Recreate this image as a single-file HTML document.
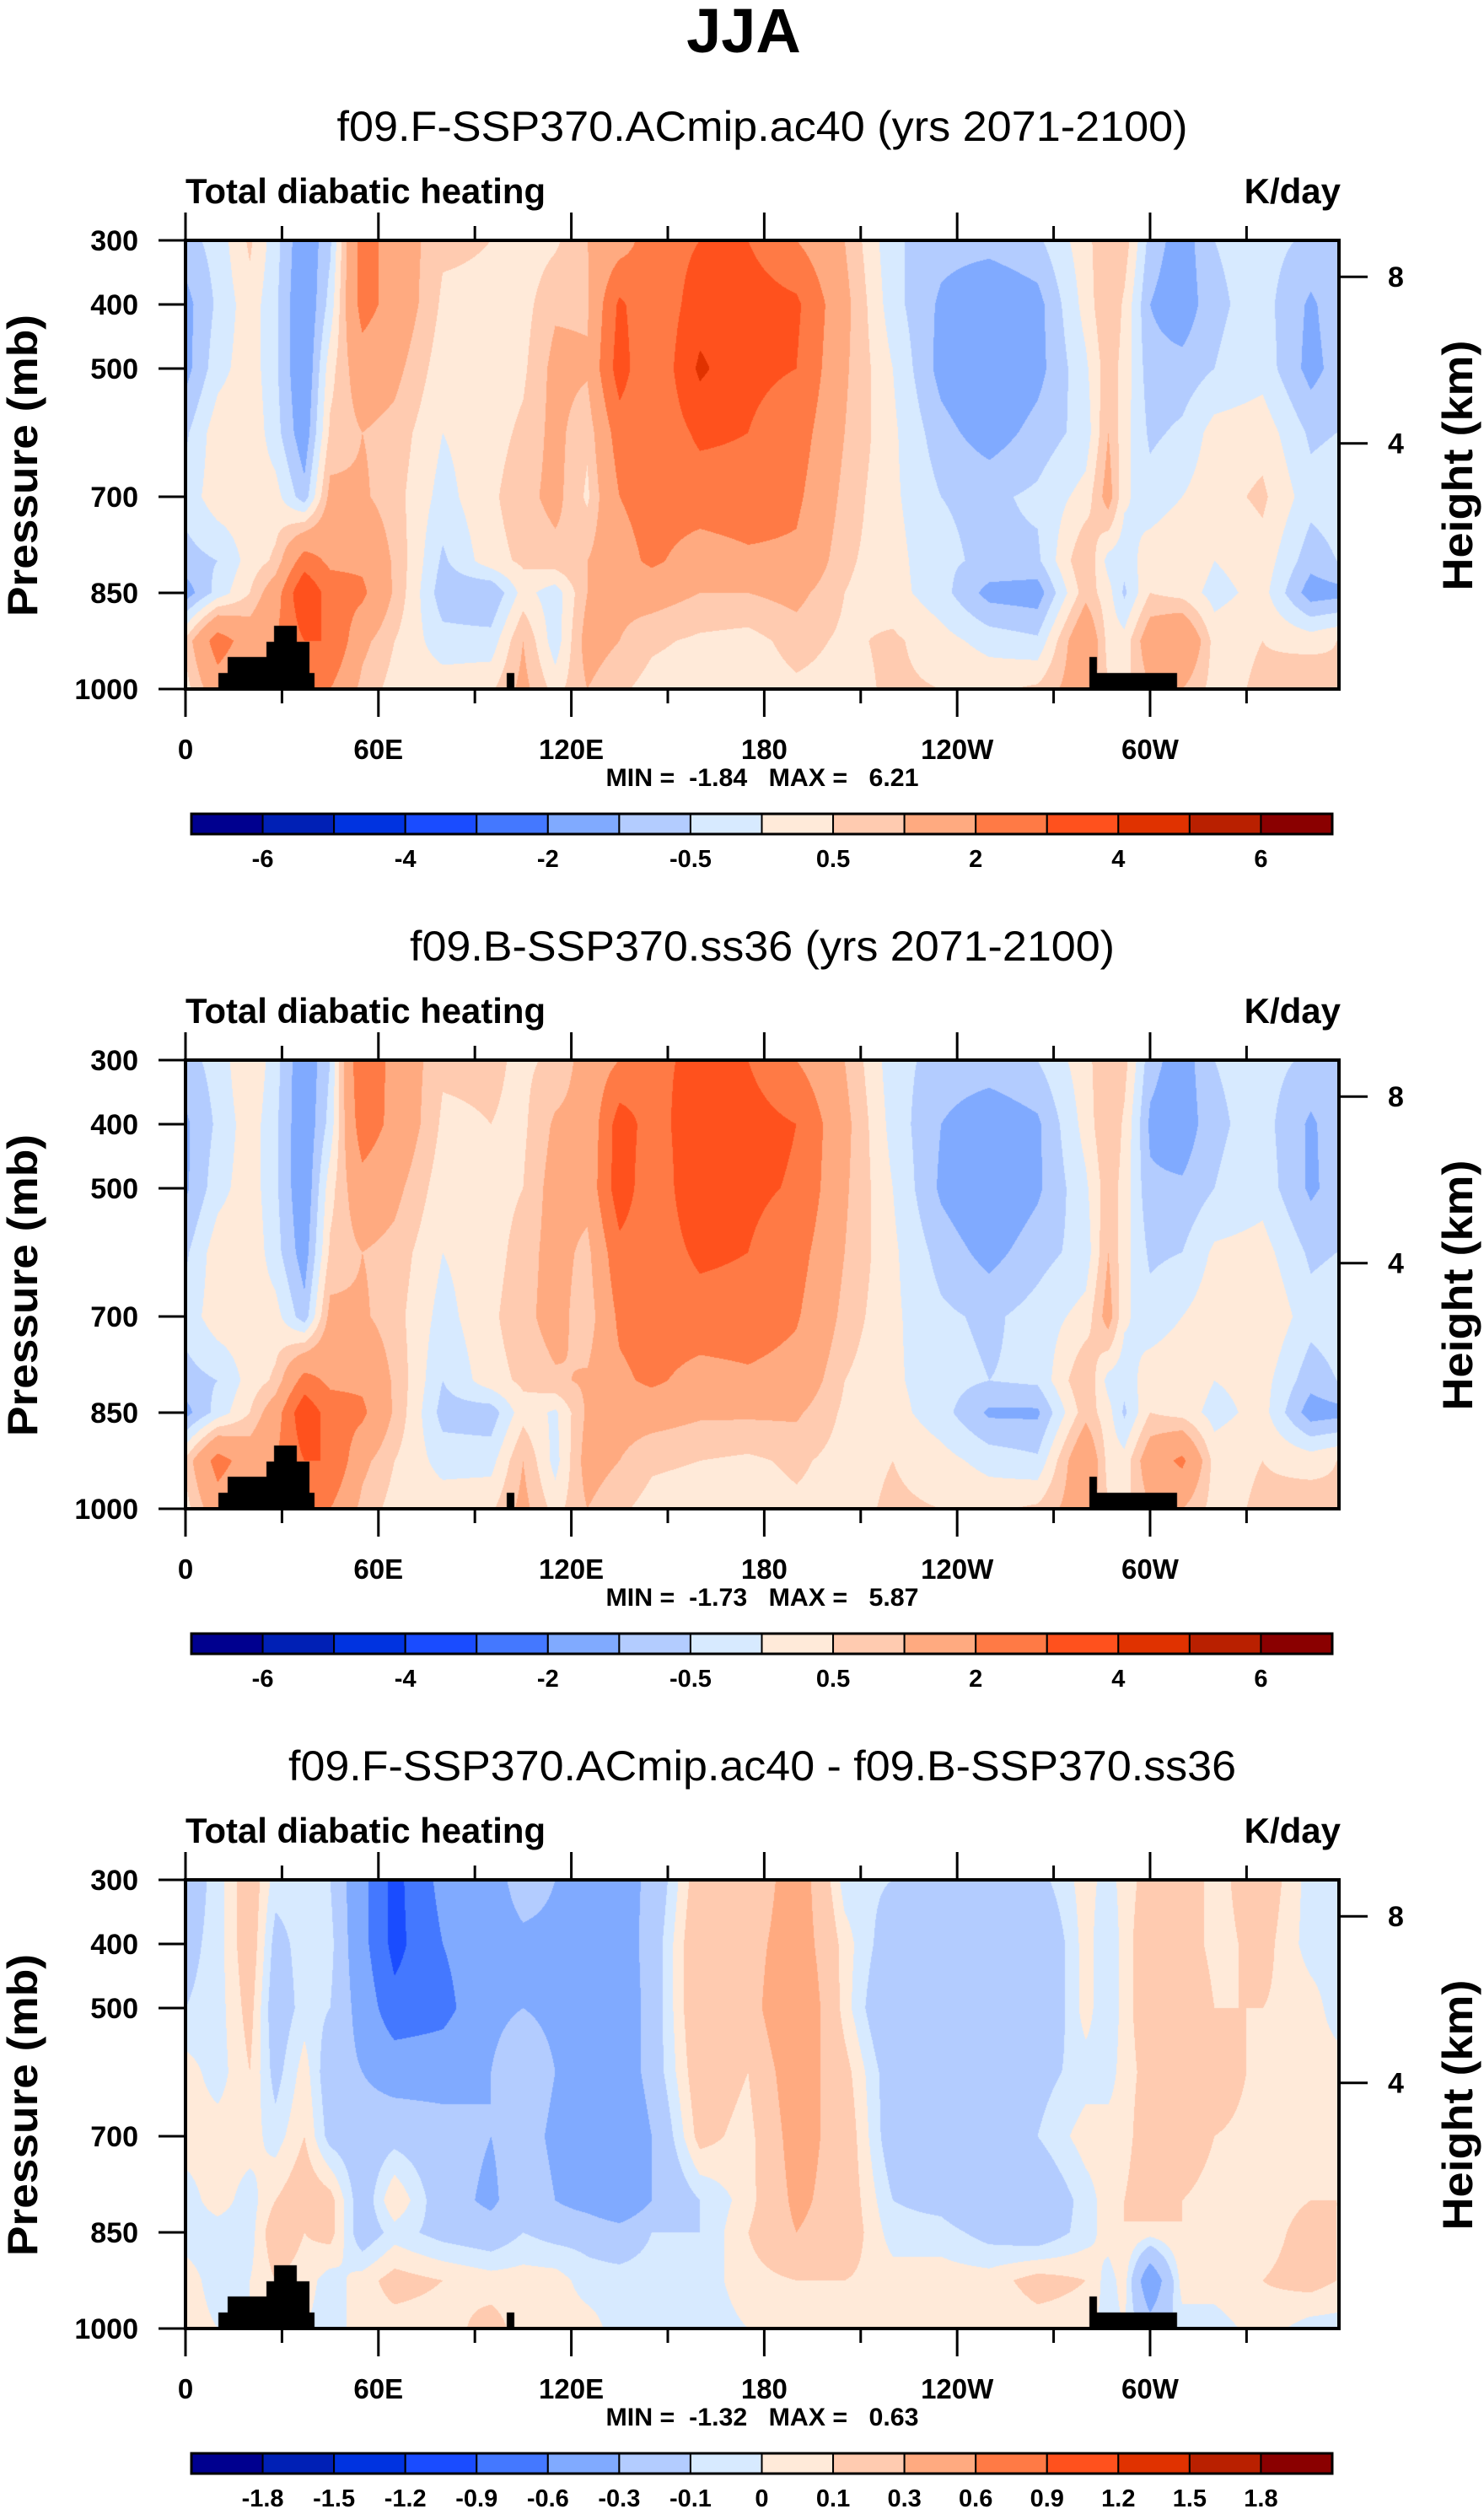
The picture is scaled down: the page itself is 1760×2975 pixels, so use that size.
<!DOCTYPE html>
<html><head><meta charset="utf-8">
<style>
html,body{margin:0;padding:0;background:#fff;}
#wrap{position:relative;width:1760px;height:2975px;overflow:hidden;}
canvas{position:absolute;}
svg{position:absolute;left:0;top:0;}
text{font-family:"Liberation Sans",Arial,sans-serif;fill:#000;}
</style></head>
<body>
<div id="wrap">
<canvas id="c0" width="1368" height="532" style="left:220px;top:285px"></canvas>
<canvas id="c1" width="1368" height="532" style="left:220px;top:1257px"></canvas>
<canvas id="c2" width="1368" height="532" style="left:220px;top:2229px"></canvas>
<svg id="svg" width="1760" height="2975" xmlns="http://www.w3.org/2000/svg">
<text x="882" y="62" font-size="74" font-weight="bold" text-anchor="middle">JJA</text>
</svg>
</div>
<script>
// ---- data ----
const lons = [0,10,20,28,37,45,55,65,80,95,105,115,125,135,145,160,175,190,205,220,235,250,265,280,287,292,300,310,320,335,350,358];
const levs = [300,400,500,600,700,800,850,925,1000];
const p1Values = [
[-0.7,-1.2,-1.2,-0.6,-0.3,-0.7,-1.3,0.6,0.3],
[-0.3,-0.4,-0.2,0.3,0.3,-0.5,-0.3,2.5,1.5],
[0.6,0.3,0.3,0.4,0.3,0.2,0.5,1.5,1],
[-0.3,-0.4,-0.4,-0.3,0.2,0.6,1.5,2,2],
[-1.5,-1.6,-1.6,-1.4,-0.8,2.5,4,3,3],
[-0.6,-0.3,0.3,0.6,1.2,1.8,2.5,3,2],
[2.5,2.4,1.5,1,1.1,1.8,2.2,1.2,0.8],
[1.5,1.6,1.2,0.8,0.7,0.9,0.9,0.5,0.3],
[0.6,0.4,0.2,0,-0.2,-0.6,-0.8,-0.3,0.3],
[0.5,0.4,0.2,0.3,0.4,0.3,-1,-0.3,0.4],
[0.2,0.3,0.4,0.6,0.8,0.6,0.2,1,1.2],
[0.4,0.9,1.2,1.2,1.2,0.8,-0.3,-0.3,0.3],
[1,0.9,1.1,0.6,0.4,1,1,1.3,1],
[1.5,3.2,3.5,2.5,2,1.6,1.2,1,0.6],
[2.5,2.2,2,2.2,2.4,2.2,1.3,0.6,0.3],
[3,3.5,4.2,3.2,2.5,1.5,1,0.4,0.2],
[3,3.5,3.2,3,2.6,1.8,1,0.3,0.2],
[2,3.2,3,2.5,2.2,1.8,1.2,0.7,0.4],
[1,1.2,1.1,1,0.8,0.6,0.5,0.4,0.3],
[-0.4,-0.3,0,0.1,0.1,0.2,0.2,0.6,0.6],
[-0.8,-1.1,-1.2,-0.8,-0.5,-0.4,-0.3,0.2,0.5],
[-0.8,-1.5,-1.7,-1.3,-0.6,-0.6,-1.2,-0.2,0.4],
[-0.6,-1.2,-1.2,-0.8,-0.4,-0.6,-1.3,-0.4,0.6],
[0.3,0.2,-0.1,-0.3,0.2,1,0.8,1.8,1.5],
[1,1,0.8,1,1.3,-0.2,0.2,0.3,0.5],
[0.8,0.4,0.3,0.2,0.1,-0.3,-0.6,0.2,0.3],
[-0.7,-1,-0.8,-0.6,-0.3,0.3,0.5,1.5,1],
[-1.3,-1.4,-0.8,-0.4,0,0.5,0.3,2,1],
[-0.5,-0.6,-0.5,0.2,0.3,0,-0.2,0.3,0.3],
[-0.3,-0.3,-0.2,0.3,0.6,0.3,0.2,0.5,0.6],
[-0.6,-1.1,-1.2,-0.6,-0.3,-0.8,-1.3,0.3,1],
[-0.5,-0.7,-0.8,-0.5,-0.2,-0.5,-1.2,0.5,0.6]
];
const p2Values = [
[-0.7,-1.1,-1.1,-0.6,-0.3,-0.7,-1.2,0.6,0.3],
[-0.3,-0.4,-0.2,0.3,0.3,-0.5,-0.3,2.4,1.5],
[0.5,0.3,0.3,0.4,0.3,0.2,0.5,1.5,1],
[-0.3,-0.4,-0.4,-0.3,0.2,0.6,1.5,2,2],
[-1.5,-1.5,-1.5,-1.3,-0.8,2.4,3.8,3,3],
[-0.5,-0.3,0.3,0.6,1.2,1.8,2.5,3,2],
[3,2.6,1.6,1,1.1,1.8,2.2,1.2,0.8],
[1.6,1.7,1.2,0.8,0.7,0.9,0.9,0.5,0.3],
[0.6,0.4,0.2,0,-0.2,-0.5,-0.7,-0.2,0.3],
[0.6,0.5,0.3,0.3,0.4,0.3,-0.8,-0.2,0.4],
[0.4,0.4,0.5,0.7,0.8,0.6,0.3,1,1.2],
[0.6,1.1,1.3,1.3,1.3,0.9,-0.1,-0.2,0.3],
[1.3,1.2,1.3,0.8,0.6,1.1,1.1,1.3,1],
[2,3.5,3.6,2.7,2.2,1.8,1.3,1,0.6],
[2.8,2.6,2.3,2.4,2.5,2.2,1.3,0.6,0.3],
[3.2,3.6,3.8,3.2,2.6,1.6,1.1,0.5,0.2],
[3,3.4,3.2,3,2.6,1.8,1.1,0.4,0.2],
[2,3,2.9,2.4,2.1,1.6,1.1,0.6,0.4],
[1,1.2,1.1,1,0.8,0.5,0.4,0.3,0.3],
[-0.3,-0.2,0,0.1,0.1,0.1,0.2,0.5,0.6],
[-0.7,-1,-1.1,-0.7,-0.4,-0.3,-0.3,0.2,0.5],
[-0.7,-1.4,-1.6,-1.2,-0.6,-0.5,-1.1,-0.2,0.4],
[-0.5,-1.1,-1.1,-0.7,-0.3,-0.4,-1.1,-0.4,0.6],
[0.3,0.2,-0.1,-0.3,0.2,1,0.8,1.8,1.5],
[1,1,0.8,1,1.3,-0.2,0.2,0.3,0.5],
[0.7,0.4,0.3,0.2,0.1,-0.3,-0.6,0.2,0.3],
[-0.8,-1.1,-0.9,-0.6,-0.3,0.3,0.5,1.5,1],
[-1.3,-1.4,-0.9,-0.5,0,0.4,0.3,2.2,1],
[-0.5,-0.6,-0.5,0.1,0.3,0,-0.2,0.3,0.3],
[-0.3,-0.3,-0.2,0.2,0.5,0.2,0.2,0.5,0.6],
[-0.6,-1.1,-1.1,-0.6,-0.3,-0.8,-1.3,0.3,0.8],
[-0.5,-0.7,-0.8,-0.5,-0.2,-0.5,-1.2,0.5,0.6]
];
const p3Values = [
[-0.2,-0.15,-0.1,0.05,0.05,-0.05,-0.05,0.05,0.05],
[-0.05,-0.05,-0.05,-0.05,0.05,0.05,-0.05,-0.05,0],
[0.2,0.2,0.15,0.1,0.05,-0.05,-0.05,0,0],
[-0.05,-0.15,-0.2,-0.15,-0.05,0.1,0.2,0.1,0],
[-0.05,-0.05,-0.05,0.05,0.1,0.2,0.1,0.05,0],
[-0.1,-0.05,-0.1,-0.2,-0.15,0.15,0.15,-0.05,-0.05],
[-0.5,-0.5,-0.4,-0.3,-0.2,-0.2,-0.2,0.05,0.05],
[-1.0,-1.0,-0.8,-0.4,-0.15,0.1,-0.05,0.15,0.05],
[-0.5,-0.6,-0.7,-0.4,-0.2,-0.2,-0.15,0.1,0.05],
[-0.4,-0.4,-0.35,-0.3,-0.3,-0.35,-0.2,0.05,0.15],
[-0.2,-0.35,-0.3,-0.15,-0.2,-0.15,-0.1,0.05,0.05],
[-0.3,-0.35,-0.35,-0.3,-0.35,-0.3,-0.15,0.05,0.05],
[-0.4,-0.45,-0.45,-0.5,-0.5,-0.4,-0.15,-0.05,0.05],
[-0.4,-0.45,-0.5,-0.5,-0.6,-0.55,-0.2,-0.05,-0.05],
[-0.25,-0.2,-0.2,-0.2,-0.3,-0.3,-0.1,-0.05,-0.05],
[0.2,0.25,0.25,0.2,0.15,-0.1,-0.1,-0.05,-0.05],
[0.1,0.2,0.2,0.1,0.05,0.05,0.1,0.05,0],
[0.45,0.45,0.55,0.45,0.4,0.35,0.3,0.1,0.05],
[-0.05,0.05,0.05,0.15,0.2,0.2,0.2,0.1,0.05],
[-0.1,-0.2,-0.3,-0.2,-0.2,-0.1,-0.05,0.05,0.05],
[-0.15,-0.2,-0.25,-0.2,-0.2,-0.15,-0.05,0.05,0.02],
[-0.1,-0.1,-0.1,-0.1,-0.15,-0.3,-0.15,0.05,0.02],
[-0.15,-0.3,-0.3,-0.15,-0.1,-0.25,-0.2,0.15,0.05],
[0.05,0.05,0.05,-0.05,0.05,-0.05,-0.05,0.1,0.05],
[-0.05,-0.1,-0.1,-0.05,0.05,0.05,0.05,-0.05,-0.05],
[0.05,0.05,0.05,0.05,0.05,0.1,0.1,0.05,0],
[0.15,0.2,0.2,0.15,0.2,0.2,0.05,-0.5,-0.2],
[0.2,0.2,0.3,0.25,0.2,0.1,0.1,0.05,-0.05],
[0.05,0.05,0.1,0.2,0.1,0.05,0.05,0.05,-0.05],
[0.2,0.15,0.1,0.05,0.05,0.05,0.05,0.1,0.05],
[-0.05,-0.05,0.05,0.05,0.05,0.1,0.15,0.15,-0.05],
[-0.05,-0.05,-0.05,0.05,0.05,0.1,0.1,0.1,-0.05]
];
const landBlocks = [[10.3,13,975],[13,25.3,950],[25.3,27.6,926],[27.6,34.7,901],[34.7,38.5,926],[38.5,40,975],[100,102.3,975],[281,283.5,950],[283.5,308.5,975]];
const levelsAbs = [-6,-5,-4,-3,-2,-1,-0.5,0,0.5,1,2,3,4,5,6];
const levelsDiff = [-1.8,-1.5,-1.2,-0.9,-0.6,-0.3,-0.1,0,0.1,0.3,0.6,0.9,1.2,1.5,1.8];
const labelsAbs = ["","-6","","-4","","-2","","-0.5","","0.5","","2","","4","","6"];
const labelsDiff = ["","-1.8","-1.5","-1.2","-0.9","-0.6","-0.3","-0.1","0","0.1","0.3","0.6","0.9","1.2","1.5","1.8"];
const xTickLabels = ["0","60E","120E","180","120W","60W"];
const xTickLons = [0,60,120,180,240,300];
const pTicks = [300,400,500,700,850,1000];
const hTicks = [8,4];
const minMax = [["-1.84","6.21"],["-1.73","5.87"],["-1.32","0.63"]];
const titles = ["f09.F-SSP370.ACmip.ac40 (yrs 2071-2100)","f09.B-SSP370.ss36 (yrs 2071-2100)","f09.F-SSP370.ACmip.ac40 - f09.B-SSP370.ss36"];
const colors = ["#00008f","#0020b5","#0033e0","#1a4cff","#4478ff","#80aaff","#b3ccff","#d7eaff","#ffead9","#ffcbb0","#ffaa80","#ff7a45","#ff511d","#e03200","#b92000","#8a0000"];

// ---- layout ----
const PX0=220, PW=1368, PY0=285, PH=532, LONMAX=358.75, PSTEP=972;
const xOf = lon => PX0 + lon/LONMAX*PW;
const yOf = (p,k) => PY0 + k*PSTEP + (p-300)/700*PH;
const hToP = h => 1066*Math.exp(-h/7.31);

function rgb(h){return [parseInt(h.substr(1,2),16),parseInt(h.substr(3,2),16),parseInt(h.substr(5,2),16)];}
const rgbs = colors.map(rgb);

function idx(arr,v){let i=0;while(i<arr.length-2 && v>arr[i+1])i++;return i;}

function drawField(canvasId, vals, levels){
  const cv=document.getElementById(canvasId), ctx=cv.getContext('2d');
  const img=ctx.createImageData(PW,PH), d=img.data;
  const colI=[], colT=[];
  for(let x=0;x<PW;x++){const lon=(x+0.5)/PW*LONMAX;const i=idx(lons,lon);colI.push(i);colT.push(Math.min(1,Math.max(0,(lon-lons[i])/(lons[i+1]-lons[i]))));}
  for(let y=0;y<PH;y++){
    const p=300+(y+0.5)/PH*700; const j=idx(levs,p); const u=Math.min(1,Math.max(0,(p-levs[j])/(levs[j+1]-levs[j])));
    for(let x=0;x<PW;x++){
      const i=colI[x], t=colT[x];
      const v=(1-t)*((1-u)*vals[i][j]+u*vals[i][j+1])+t*((1-u)*vals[i+1][j]+u*vals[i+1][j+1]);
      let c=0;while(c<levels.length && v>levels[c])c++;
      let col=rgbs[c];
      const lon=(x+0.5)/PW*LONMAX;
      for(const b of landBlocks){if(lon>=b[0]&&lon<b[1]&&p>=b[2]){col=[0,0,0];break;}}
      const o=(y*PW+x)*4; d[o]=col[0];d[o+1]=col[1];d[o+2]=col[2];d[o+3]=255;
    }
  }
  ctx.putImageData(img,0,0);
}
drawField('c0',p1Values,levelsAbs);
drawField('c1',p2Values,levelsAbs);
drawField('c2',p3Values,levelsDiff);

// ---- axes ----
const svg=document.getElementById('svg'), NS='http://www.w3.org/2000/svg';
function el(tag,attrs,text){const e=document.createElementNS(NS,tag);for(const k in attrs)e.setAttribute(k,attrs[k]);if(text!==undefined)e.textContent=text;svg.appendChild(e);return e;}
const titleLens=[1009,836,1124];
for(let k=0;k<3;k++){
  const off=k*PSTEP;
  let e;
  e=el('text',{x:904,y:167+off,'font-size':50,'text-anchor':'middle',textLength:titleLens[k],lengthAdjust:'spacingAndGlyphs'},titles[k]);
  
  
  e=el('text',{x:220,y:241+off,'font-size':42,'font-weight':'bold',textLength:427,lengthAdjust:'spacingAndGlyphs'},'Total diabatic heating');
  
  
  e=el('text',{x:1590,y:241+off,'font-size':42,'font-weight':'bold','text-anchor':'end'},'K/day');
  
  
  e=el('rect',{x:PX0,y:PY0+off,width:PW,height:PH,fill:'none',stroke:'#000','stroke-width':4});
  
  
  for(let lon=0;lon<=330;lon+=30){
    const major=lon%60===0, x=xOf(lon), L=major?33:17;
    e=el('line',{x1:x,x2:x,y1:PY0+off,y2:PY0+off-L,stroke:'#000','stroke-width':3});
    
    
    e=el('line',{x1:x,x2:x,y1:PY0+PH+off,y2:PY0+PH+off+L,stroke:'#000','stroke-width':3});
    
    
  }
  xTickLons.forEach((lon,i)=>{
    const t=el('text',{x:xOf(lon),y:900+off,'font-size':33,'font-weight':'bold','text-anchor':'middle'},xTickLabels[i]);
    
    
  });
  pTicks.forEach(p=>{
    const y=yOf(p,k);
    let t=el('line',{x1:PX0,x2:PX0-32,y1:y,y2:y,stroke:'#000','stroke-width':3});
    
    
    t=el('text',{x:164,y:y+12,'font-size':34,'font-weight':'bold','text-anchor':'end'},String(p));
    
    
  });
  hTicks.forEach(h=>{
    const y=yOf(hToP(h),k);
    let t=el('line',{x1:PX0+PW,x2:PX0+PW+34,y1:y,y2:y,stroke:'#000','stroke-width':3});
    
    
    t=el('text',{x:1646,y:y+12,'font-size':34,'font-weight':'bold'},String(h));
    
    
  });
  e=el('text',{x:0,y:0,'font-size':50,'font-weight':'bold','text-anchor':'middle',transform:`translate(44,${552+off}) rotate(-90)`,textLength:358,lengthAdjust:'spacingAndGlyphs'},'Pressure (mb)');
  
  
  e=el('text',{x:0,y:0,'font-size':50,'font-weight':'bold','text-anchor':'middle',transform:`translate(1746,${552+off}) rotate(-90)`,textLength:297,lengthAdjust:'spacingAndGlyphs'},'Height (km)');
  
  
  e=el('text',{x:904,y:932+off,'font-size':30,'font-weight':'bold','text-anchor':'middle',style:'white-space:pre',textLength:371,lengthAdjust:'spacingAndGlyphs'},`MIN =  ${minMax[k][0]}   MAX =   ${minMax[k][1]}`);
  
  
  const CX0=227, CW=1353, n=colors.length, bw=CW/n, cy=965+off;
  const labs = k<2?labelsAbs:labelsDiff;
  for(let i=0;i<n;i++){
    e=el('rect',{x:CX0+i*bw,y:cy,width:bw,height:24,fill:colors[i],stroke:'#000','stroke-width':2});
    
    
    if(labs[i]){
      e=el('text',{x:CX0+i*bw,y:1028+off,'font-size':29,'font-weight':'bold','text-anchor':'middle'},labs[i]);
      
      
    }
  }
  e=el('rect',{x:CX0,y:cy,width:CW,height:24,fill:'none',stroke:'#000','stroke-width':3});
  
  
}
</script>
</body></html>
